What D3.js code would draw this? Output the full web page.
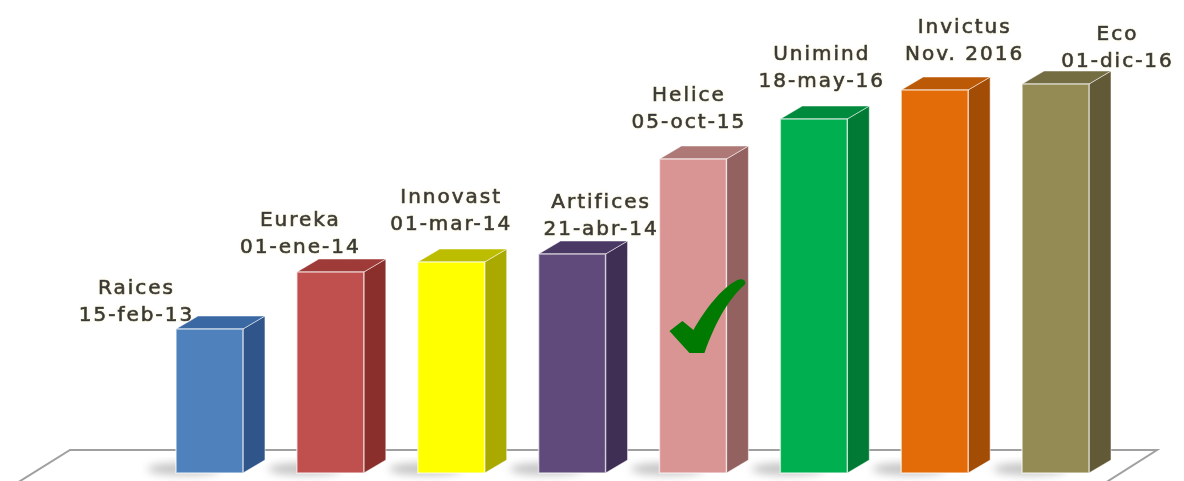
<!DOCTYPE html>
<html>
<head>
<meta charset="utf-8">
<script src="https://cdn.jsdelivr.net/npm/d3@7"></script>
<style>
  html, body { margin: 0; padding: 0; background: #fff; }
  svg { display: block; }
  .lbl { font-family: "DejaVu Sans", Verdana, sans-serif; font-size: 20px; fill: #383838; stroke: #383838; stroke-width: 0.7px; letter-spacing: 2px; }
</style>
</head>
<body>
<div id="graphicContainer"></div>
<script>
var names = ["Raices", "Eureka", "Innovast", "Artifices", "Helice", "Unimind", "Invictus", "Eco"];
var dates = ["15-feb-13", "01-ene-14", "01-mar-14", "21-abr-14", "05-oct-15", "18-may-16", "Nov. 2016", "01-dic-16"];
var values = [144, 201, 211, 219, 314, 354, 383, 389];

// face colours: front, side, top
var frontColors = ["#4f81bd", "#c0504d", "#ffff00", "#604a7b", "#d99594", "#00b050", "#e36c09", "#948a54"];
var sideColors = ["#30558a", "#8a2f2c", "#a9a900", "#3f2f55", "#936260", "#007a35", "#a24c05", "#625a36"];
var topColors = ["#3a68a3", "#9e3a37", "#bdbd00", "#4b3965", "#ad7876", "#008a3e", "#bb5906", "#756d42"];

// hand placed label nudges (dx from bar centre, gap above bar top)
var labelNudge = [[-73, 8], [-30, 19], [0, 32], [29, 19], [-4, 31], [8, 32], [30, 30], [62, 17]];

var width = 1184, height = 481;
var depthX = 22, depthY = -13;
var baseY = 473;

var svg = d3.select("#graphicContainer").append("svg")
  .attr("width", width).attr("height", height);

var defs = svg.append("defs");
defs.append("filter").attr("id", "blur").attr("x", "-50%").attr("y", "-50%").attr("width", "200%").attr("height", "200%")
  .append("feGaussianBlur").attr("stdDeviation", 4);
var halo = defs.append("filter").attr("id", "halo").attr("x", "-10%").attr("y", "-30%").attr("width", "120%").attr("height", "160%");
halo.append("feGaussianBlur").attr("in", "SourceAlpha").attr("stdDeviation", 1.5).attr("result", "b");
halo.append("feFlood").attr("flood-color", "#f3e9b0").attr("flood-opacity", 0.6);
halo.append("feComposite").attr("in2", "b").attr("operator", "in").attr("result", "g");
var hm = halo.append("feMerge");
hm.append("feMergeNode").attr("in", "g");
hm.append("feMergeNode").attr("in", "SourceGraphic");

var x = d3.scaleBand().domain(names).range([176, 1089]).paddingInner(0.446).paddingOuter(0);
var y = d3.scaleLinear().domain([0, 400]).range([baseY, 73]);
var bw = x.bandwidth();

// floor
svg.append("path")
  .attr("d", "M70,450 L1157,450 L1105,483 L17,483 Z")
  .attr("fill", "#fff")
  .attr("stroke", "#a0a0a0")
  .attr("stroke-width", 2);

// shadows on the floor
svg.selectAll(".shadow").data(names).enter().append("ellipse")
  .attr("class", "shadow")
  .attr("cx", function (d) { return x(d) + 8; })
  .attr("cy", baseY - 4)
  .attr("rx", bw * 0.55)
  .attr("ry", 6)
  .attr("fill", "#9a9a9a")
  .attr("opacity", 0.6)
  .attr("filter", "url(#blur)");

var bars = svg.selectAll(".bar").data(names).enter().append("g").attr("class", "bar");

bars.append("path")
  .attr("fill", function (d, i) { return sideColors[i]; })
  .attr("stroke", "rgba(255,255,255,0.5)")
  .attr("stroke-width", 1)
  .attr("d", function (d, i) {
    var x0 = x(d) + bw, t = y(values[i]);
    return "M" + x0 + "," + t + "L" + (x0 + depthX) + "," + (t + depthY) +
      "L" + (x0 + depthX) + "," + (baseY + depthY) + "L" + x0 + "," + baseY + "Z";
  });

bars.append("path")
  .attr("fill", function (d, i) { return topColors[i]; })
  .attr("stroke", "rgba(255,255,255,0.5)")
  .attr("stroke-width", 1)
  .attr("d", function (d, i) {
    var x0 = x(d), t = y(values[i]);
    return "M" + x0 + "," + t + "L" + (x0 + depthX) + "," + (t + depthY) +
      "L" + (x0 + bw + depthX) + "," + (t + depthY) + "L" + (x0 + bw) + "," + t + "Z";
  });

bars.append("rect")
  .attr("x", function (d) { return x(d); })
  .attr("y", function (d, i) { return y(values[i]); })
  .attr("width", bw)
  .attr("height", function (d, i) { return baseY - y(values[i]); })
  .attr("fill", function (d, i) { return frontColors[i]; })
  .attr("stroke", "rgba(255,255,255,0.6)")
  .attr("stroke-width", 1.5);

// labels
var labels = svg.selectAll(".lblg").data(names).enter().append("g")
  .attr("class", "lblg")
  .attr("filter", "url(#halo)");

labels.append("text")
  .attr("class", "lbl")
  .attr("text-anchor", "middle")
  .attr("x", function (d, i) { return x(d) + bw / 2 + labelNudge[i][0]; })
  .attr("y", function (d, i) { return y(values[i]) - labelNudge[i][1] - 27; })
  .text(function (d) { return d; });

labels.append("text")
  .attr("class", "lbl")
  .attr("text-anchor", "middle")
  .attr("x", function (d, i) { return x(d) + bw / 2 + labelNudge[i][0]; })
  .attr("y", function (d, i) { return y(values[i]) - labelNudge[i][1]; })
  .text(function (d, i) { return dates[i]; });

// check mark on Helice
svg.append("path")
  .attr("transform", "translate(" + (x("Helice") + 10) + "," + (baseY - 194) + ")")
  .attr("d", "M0,52 L13,42 L24,51 C36,30 52,9 68,1 C73,-1 78,2 75,6 C61,18 47,40 35,74 L20,74 Z")
  .attr("fill", "#007a00");
</script>
</body>
</html>
